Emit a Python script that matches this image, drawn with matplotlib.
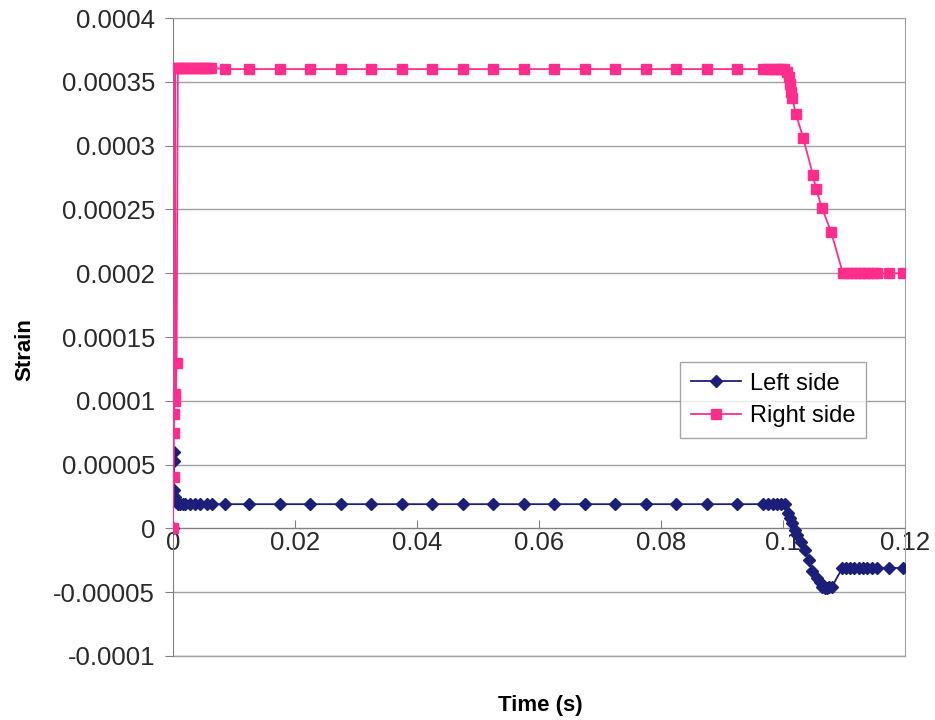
import numpy as np
import matplotlib
matplotlib.use("Agg")
import matplotlib.pyplot as plt
from matplotlib.ticker import FuncFormatter

# ===============================
# Data
# ===============================
plateau_t = [0.0085, 0.0125, 0.0175, 0.0225, 0.0275, 0.0325, 0.0375, 0.0425,
             0.0475, 0.0525, 0.0575, 0.0625, 0.0675, 0.0725, 0.0775, 0.0825,
             0.0875, 0.0925]

# Right side (pink)
right_t = ([0.0, 0.0001, 0.00015, 0.0002, 0.00025, 0.0003, 0.0004, 0.0006, 0.0008,
            0.0012, 0.0017, 0.0022, 0.0027, 0.0032, 0.0037, 0.0042, 0.0047,
            0.0052, 0.0057, 0.0062]
           + plateau_t
           + [0.0967, 0.0975, 0.0983, 0.0990, 0.0996, 0.1001, 0.1006, 0.1009,
              0.1011, 0.1013, 0.1015, 0.1021, 0.1033, 0.1049, 0.1054, 0.1064,
              0.1079, 0.1098, 0.1105, 0.1112, 0.1119, 0.1126, 0.1133, 0.1140,
              0.1147, 0.1154, 0.1174, 0.1197])
right_strain = ([0.0, 0.00004, 0.000075, 0.00009, 0.000105, 0.000361, 0.0001,
                 0.00013, 0.000361,
                 0.000361, 0.000361, 0.000361, 0.000361, 0.000361, 0.000361,
                 0.000361, 0.000361, 0.000361, 0.000361, 0.000361]
                + [0.00036] * 18
                + [0.00036, 0.00036, 0.00036, 0.00036, 0.00036, 0.00036, 0.000358,
                   0.000354, 0.000348, 0.000342, 0.000337, 0.000325, 0.000306,
                   0.000277, 0.000266, 0.000251, 0.000232, 0.0002, 0.0002, 0.0002,
                   0.0002, 0.0002, 0.0002, 0.0002, 0.0002, 0.0002, 0.0002, 0.0002])

# Left side (navy)
left_t = ([0.0, 0.0001, 0.00015, 0.0002, 0.0003, 0.0005, 0.0008, 0.0012,
           0.0016, 0.0020, 0.0028, 0.0036, 0.0044, 0.0056, 0.0064]
          + plateau_t
          + [0.0967, 0.0975, 0.0983, 0.0990, 0.0996, 0.1003, 0.1008, 0.1012,
             0.1015, 0.1019, 0.1023, 0.1030, 0.1036, 0.1042, 0.1048, 0.1056,
             0.1060, 0.1064, 0.1068, 0.1072, 0.1076, 0.1080, 0.1097, 0.1103,
             0.1110, 0.1117, 0.1124, 0.1131, 0.1138, 0.1146, 0.1154, 0.1174,
             0.1197])
left_strain = ([0.0, 0.00006, 0.000053, 0.00003, 0.000025, 0.000021, 0.000019,
                0.000019, 0.000019, 0.000019, 0.000019, 0.000019, 0.000019,
                0.000019, 0.000019]
               + [0.000019] * 18
               + [0.000019, 0.000019, 0.000019, 0.000019, 0.000019, 0.000019,
                  0.0000118, 0.000008, 0.0000039, -0.000001, -0.0000055,
                  -0.000011, -0.000017, -0.000025, -0.000033, -0.000039,
                  -0.000042, -0.000046, -0.000047, -0.000047, -0.000046,
                  -0.000046, -0.000031, -0.000031, -0.000031, -0.000031,
                  -0.000031, -0.000031, -0.000031, -0.000031, -0.000031,
                  -0.000031, -0.000031])

x_ticks = [0, 0.02, 0.04, 0.06, 0.08, 0.1, 0.12]
y_ticks = [-0.0001, -0.00005, 0, 0.00005, 0.0001, 0.00015, 0.0002,
           0.00025, 0.0003, 0.00035, 0.0004]

# ===============================
# Plot
# ===============================
plt.rcParams['font.family'] = ['Liberation Sans', 'DejaVu Sans']

fig = plt.figure(figsize=(9.35, 7.2), dpi=100)
ax = fig.add_axes([0.185, 0.0889, 0.783, 0.886])

navy = "#1c1f7a"
pink = "#ff2e8c"

ax.plot(left_t, left_strain, color=navy, lw=1.3, marker="D", ms=6.5,
        markeredgecolor=navy, label="Left side", zorder=3)
ax.plot(right_t, right_strain, color=pink, lw=1.3, marker="s", ms=7,
        markeredgecolor=pink, label="Right side", zorder=3)

ax.set_xlim(0, 0.12)
ax.set_ylim(-0.0001, 0.0004)
ax.set_xticks(x_ticks)
ax.set_yticks(y_ticks)

ax.xaxis.set_major_formatter(FuncFormatter(lambda v, p: "0" if v == 0 else ("%g" % v)))


def yfmt(v, p):
    if abs(v) < 1e-12:
        return "0"
    return ("%.5f" % v).rstrip("0")


ax.yaxis.set_major_formatter(FuncFormatter(yfmt))

ax.grid(axis="y", color="#a0a0a0", lw=1.0)
ax.axhline(-0.0001, color="#a0a0a0", lw=1.0, clip_on=False, zorder=1)
ax.set_axisbelow(True)

for side in ["top", "right"]:
    ax.spines[side].set_color("#a0a0a0")
ax.spines["bottom"].set_position(("data", 0))
ax.spines["bottom"].set_color("#808080")
ax.spines["left"].set_color("#808080")

ax.tick_params(axis="y", direction="out", length=6, color="#808080",
               labelsize=18.5, labelcolor="#2a2a2a", pad=7)
ax.tick_params(axis="x", direction="in", length=6, color="#808080",
               labelsize=18.5, labelcolor="#2a2a2a", pad=2)

fig.text(0.027, 0.514, "Strain", fontsize=16, fontweight="bold",
         rotation=90, ha="center", va="center")
fig.text(0.578, 0.012, "Time (s)", fontsize=16, fontweight="bold", ha="center")

leg = ax.legend(loc="upper left", bbox_to_anchor=(0.693, 0.461), fontsize=17,
                frameon=True, fancybox=False, edgecolor="#909090",
                handlelength=2.1, handletextpad=0.4, borderpad=0.45,
                labelspacing=0.45, borderaxespad=0)
leg.get_frame().set_linewidth(1.0)

fig.savefig("out.png", dpi=100)
